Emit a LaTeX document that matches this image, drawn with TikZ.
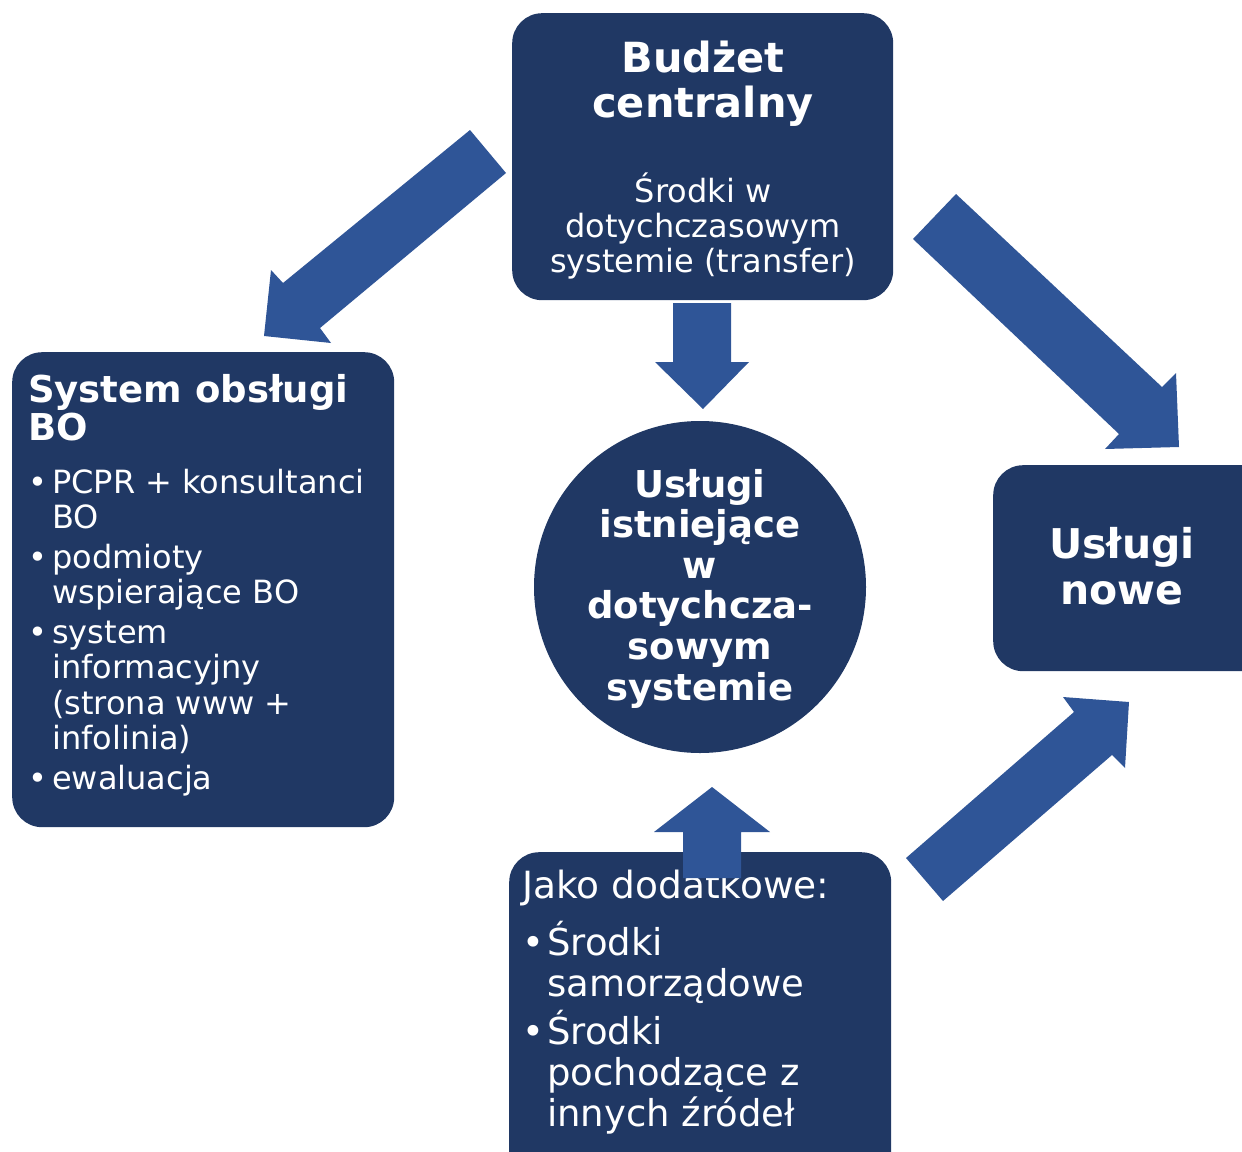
\documentclass[tikz,border=0pt]{standalone}
\usepackage{fontspec}
\setmainfont{DejaVu Sans}

\definecolor{granat}{HTML}{203864}
\definecolor{niebieski}{HTML}{2F5597}
\setlength{\lineskiplimit}{-50pt}

\newcommand{\punkt}[1]{\par\hangindent=#1\relax\hangafter=1\noindent\makebox[#1][l]{\textbullet}}

\tikzset{
  ramka/.style={fill=granat, rounded corners=30pt},
  strzalka/.style={fill=niebieski},
  napis/.style={text=white, inner sep=0pt, anchor=base},
}

\begin{document}
\begin{tikzpicture}[x=1pt, y=-1pt]
\useasboundingbox (0,0) rectangle (1242,1151);
\clip (0,0) rectangle (1242,1151);

%ramki
\node[ramka, minimum width=381pt, minimum height=287pt, anchor=north west] (budzet) at (512,13) {};
\node[ramka, minimum width=382pt, minimum height=475pt, anchor=north west] (system) at (12,352) {};
\node[ramka, minimum width=280pt, minimum height=206pt, anchor=north west] (nowe) at (993,465) {};
\node[ramka, minimum width=382pt, minimum height=330pt, anchor=north west] (zrodla) at (509,852) {};
\node[circle, fill=granat, minimum size=332pt] (istniejace) at (700,587) {};

%budzet centralny
\node[napis] (budzet-tytul) at (703,72) {\parbox[t]{360pt}{\centering\bfseries\fontsize{41.5}{45}\selectfont Budżet\\centralny}};
\node[napis] (budzet-opis) at (703,202) {\parbox[t]{370pt}{\centering\fontsize{32}{35}\selectfont Środki w\\dotychczasowym\\systemie (transfer)}};

%system obslugi
\node[napis, anchor=base west] (system-tytul) at (28,402) {\parbox[t]{360pt}{\raggedright\bfseries\fontsize{37}{38}\selectfont System obsługi\\BO}};
\node[napis, anchor=base west] (system-lista) at (28,493) {\parbox[t]{360pt}{\raggedright\fontsize{32}{35.3}\selectfont\setlength{\parskip}{4.7pt}%
\punkt{24pt}PCPR + konsultanci\newline BO
\punkt{24pt}podmioty\newline wspierające BO
\punkt{24pt}system\newline informacyjny\newline (strona www +\newline infolinia)
\punkt{24pt}ewaluacja}};

%uslugi
\node[napis] (istniejace-tekst) at (700,497) {\parbox[t]{320pt}{\centering\bfseries\fontsize{37}{40.6}\selectfont Usługi\\istniejące\\w\\dotychcza-\\sowym\\systemie}};
\node[napis] (nowe-tekst) at (1122,558) {\parbox[t]{240pt}{\centering\bfseries\fontsize{41}{46}\selectfont Usługi\\nowe}};

%zrodla dodatkowe
\node[napis, anchor=base west] (zrodla-tytul) at (522,898) {\fontsize{37.5}{41}\selectfont Jako dodatkowe:};
\node[napis, anchor=base west] (zrodla-lista) at (522,955) {\parbox[t]{360pt}{\raggedright\fontsize{37}{41}\selectfont\setlength{\parskip}{6pt}%
\punkt{25pt}Środki\newline samorządowe
\punkt{25pt}Środki\newline pochodzące z\newline innych źródeł}};

%strzalki
\fill[strzalka] (470,130) -- (506,173) -- (320,328) -- (331,343) -- (264,336) -- (271,270) -- (283,283) -- cycle;
\fill[strzalka] (956,194) -- (1162,387) -- (1176,373) -- (1179,447) -- (1105,449) -- (1119,434) -- (913,239) -- cycle;
\fill[strzalka] (906,858) -- (1074,712) -- (1063,697) -- (1129,702) -- (1125,768) -- (1112,755) -- (943,901) -- cycle;
\fill[strzalka] (673,303) -- (731,303) -- (731,362) -- (749,362) -- (703,409) -- (655,362) -- (673,362) -- cycle;
\fill[strzalka] (683,878) -- (741,878) -- (741,832) -- (770,832) -- (712,787) -- (654,832) -- (683,832) -- cycle;
\end{tikzpicture}
\end{document}
